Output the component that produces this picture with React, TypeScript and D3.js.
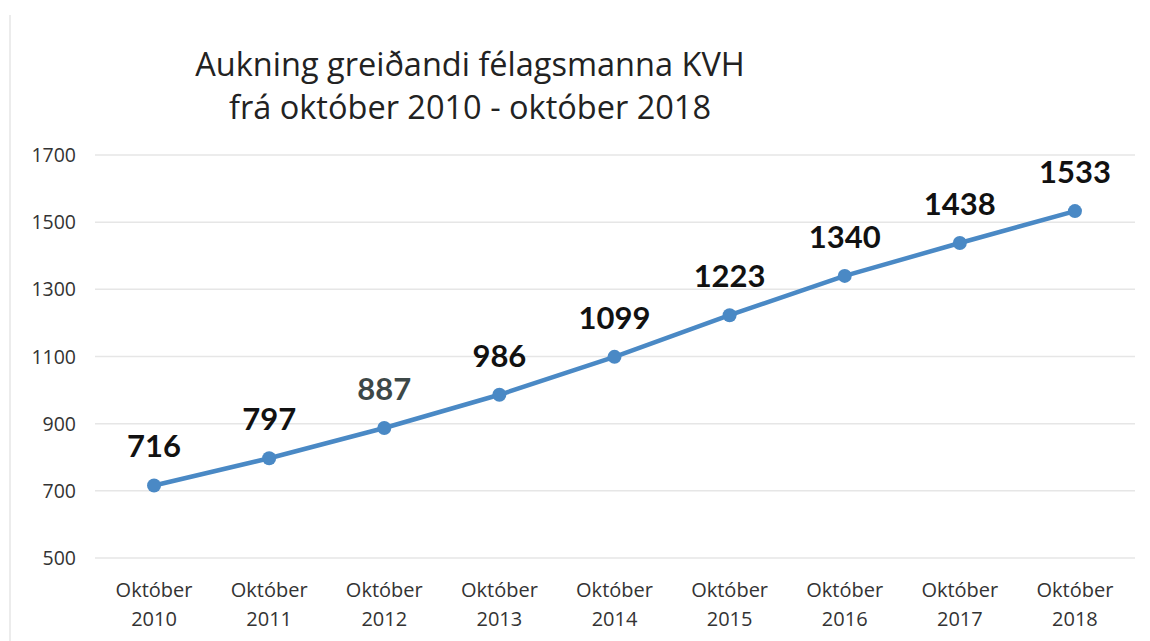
import React from "react";
import * as d3 from "d3";

const years = ["2010", "2011", "2012", "2013", "2014", "2015", "2016", "2017", "2018"];
const members = [716, 797, 887, 986, 1099, 1223, 1340, 1438, 1533];
const yTicks = [500, 700, 900, 1100, 1300, 1500, 1700];
const titleLines = ["Aukning greiðandi félagsmanna KVH", "frá október 2010 - október 2018"];
const monthLabel = "Október";

const W = 1150;
const H = 641;
const FONT = "'Open Sans', Lato, sans-serif";
const BOLD_FONT = "Lato, 'Open Sans', sans-serif";

export default function App() {
  const x = d3.scaleBand<string>().domain(years).range([96.5, 1132.5]).padding(0);
  const y = d3.scaleLinear().domain([500, 1700]).range([558, 155]);
  const cx = (d: string) => (x(d) ?? 0) + x.bandwidth() / 2;
  const line = d3
    .line<number>()
    .x((_, i) => cx(years[i]))
    .y((v) => y(v));

  return (
    <svg
      width={W}
      height={H}
      style={{ position: "absolute", left: 0, top: 0, background: "#fff" }}
      fontFamily={FONT}
    >
      <rect x={0} y={0} width={W} height={H} fill="#fff" />
      <line x1={10} x2={10} y1={15} y2={641} stroke="#ececec" strokeWidth={2} />
      {titleLines.map((t, i) => (
        <text key={i} x={470} y={76 + i * 43} textAnchor="middle" fontSize={32.5} fill="#222">
          {t}
        </text>
      ))}
      {yTicks.map((t) => (
        <g key={t}>
          <line x1={95} x2={1135} y1={y(t)} y2={y(t)} stroke="#e6e6e6" strokeWidth={1.5} />
          <text x={76} y={y(t) + 7} textAnchor="end" fontSize={19.5} fill="#333">
            {t}
          </text>
        </g>
      ))}
      {years.map((yr) => (
        <text key={yr} x={cx(yr)} textAnchor="middle" fontSize={20} fill="#333">
          <tspan x={cx(yr)} y={597}>{monthLabel}</tspan>
          <tspan x={cx(yr)} y={626}>{yr}</tspan>
        </text>
      ))}
      <path d={line(members) ?? ""} fill="none" stroke="#4a89c5" strokeWidth={4.5} strokeLinejoin="round" />
      {members.map((v, i) => (
        <circle key={i} cx={cx(years[i])} cy={y(v)} r={7} fill="#4a89c5" />
      ))}
      {members.map((v, i) => (
        <text
          key={"l" + i}
          x={cx(years[i])}
          y={y(v) - 28}
          textAnchor="middle"
          fontSize={31}
          fontWeight="bold"
          fontFamily={BOLD_FONT}
          fill={i === 2 ? "#3d4848" : "#111"}
        >
          {v}
        </text>
      ))}
    </svg>
  );
}
